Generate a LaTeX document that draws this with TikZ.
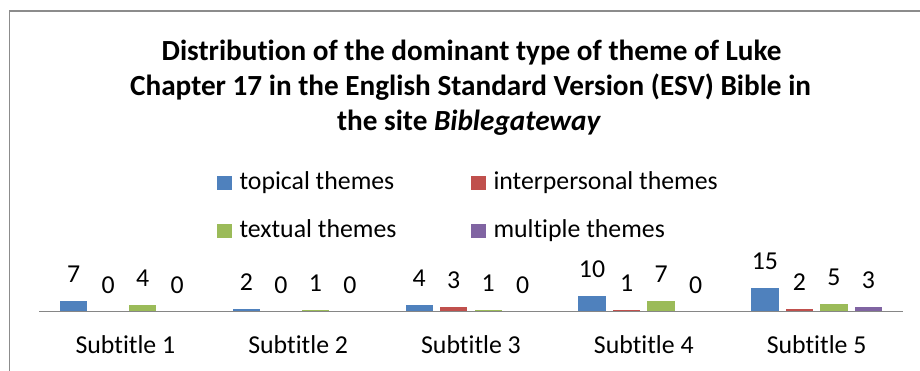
\documentclass[tikz,border=0pt]{standalone}
\usepackage{fontspec}
\setmainfont{Carlito}[Ligatures=NoCommon]
\definecolor{cblue}{HTML}{4F81BD}
\definecolor{cred}{HTML}{C0504D}
\definecolor{cgreen}{HTML}{9BBB59}
\definecolor{cpurple}{HTML}{8064A2}
\definecolor{framegray}{HTML}{8C8C8C}
\definecolor{axisgray}{HTML}{868686}
\tikzset{
  txt/.style={anchor=base, inner sep=0pt, text=black},
  legtxt/.style={anchor=base west, inner sep=0pt, text=black},
  legsq/.style={draw=none, minimum size=14.4pt, inner sep=0pt},
  ttl/.style={anchor=base, inner sep=0pt, font=\fontsize{29.2}{35}\selectfont\bfseries},
}
\begin{document}
\begin{tikzpicture}[x=1pt,y=-1pt, font=\fontsize{25.8}{31}\selectfont]
\useasboundingbox (0,0) rectangle (920,370);
\fill[white] (0,0) rectangle (920,370);
% chart frame (cropped on right and bottom)
\draw[framegray, line width=1.3pt] (9.5,375) -- (9.5,11) -- (925,11);
% title
\node[ttl] (t1) at (471.5,60) {Distribution of the dominant type of theme of Luke};
\node[ttl] (t2) at (470.5,95) {Chapter 17 in the English Standard Version (ESV) Bible in};
\node[ttl] (t3) at (469,130) {the site \textit{Biblegateway}};
% legend
\node[legsq, fill=cblue]   (s1) at (224.5,183) {};
\node[legtxt] (l1) at (239.3,189) {topical themes};
\node[legsq, fill=cred]    (s2) at (478.3,183) {};
\node[legtxt] (l2) at (493.3,189) {interpersonal themes};
\node[legsq, fill=cgreen]  (s3) at (224.5,231) {};
\node[legtxt] (l3) at (239.3,237) {textual themes};
\node[legsq, fill=cpurple] (s4) at (478.3,231) {};
\node[legtxt] (l4) at (493.3,237) {multiple themes};
% bars
\foreach \g/\va/\vb/\vc/\vd in {0/7/0/4/0, 1/2/0/1/0, 2/4/3/1/0, 3/10/1/7/0, 4/15/2/5/3}{
  \pgfmathsetmacro{\cx}{39+172.8*(\g+0.5)}
  \foreach \j/\v/\col in {0/\va/cblue, 1/\vb/cred, 2/\vc/cgreen, 3/\vd/cpurple}{
    \pgfmathsetmacro{\bx}{\cx+(\j-1.5)*34.5}
    \pgfmathsetmacro{\top}{311.7-1.6*\v}
    \ifnum\v>0
      \fill[\col] (\bx-13.65,311.7) rectangle (\bx+13.65,\top);
    \fi
    \node[txt] (v\g\j) at (\bx,\top-18.5) {\v};
  }
  \pgfmathtruncatemacro{\n}{\g+1}
  \node[txt] (c\g) at (\cx,353.3) {Subtitle \n};
}
% axis
\draw[axisgray, line width=1.5pt] (39,311.7) -- (903,311.7);
\end{tikzpicture}
\end{document}
